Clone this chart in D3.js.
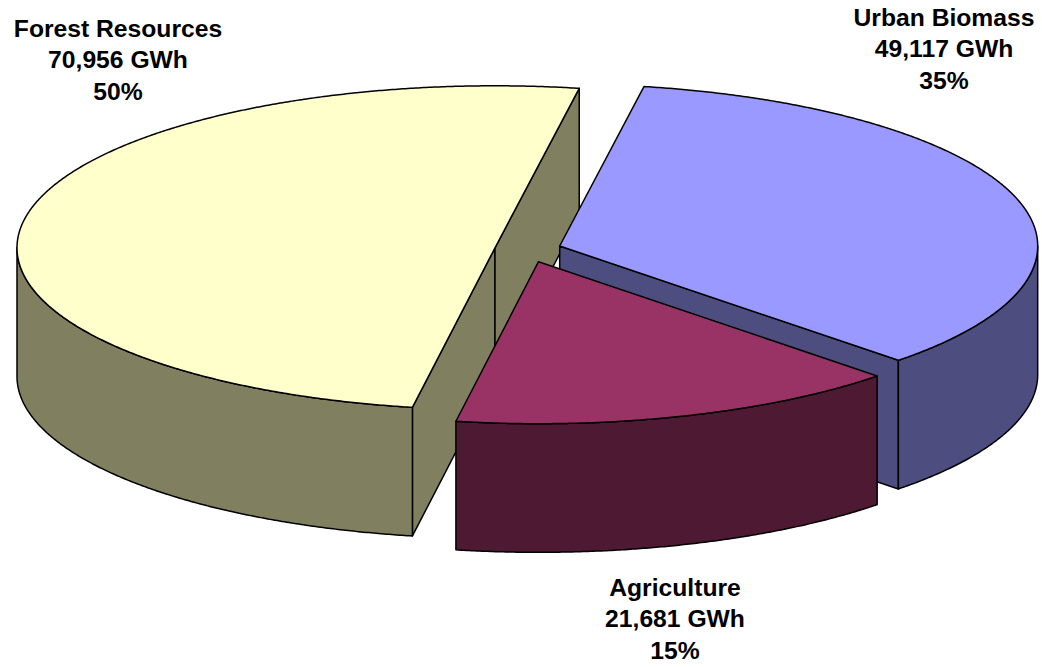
<!DOCTYPE html>
<html>
<head>
<meta charset="utf-8">
<style>
  html, body { margin: 0; padding: 0; background: #fff; }
  svg { display: block; }
  text { font-family: "Liberation Sans", Arial, sans-serif; font-weight: bold; font-size: 23.5px; fill: #000; }
</style>
</head>
<body>
<svg id="chart" width="1042" height="667"></svg>
<script src="https://cdn.jsdelivr.net/npm/d3@7/dist/d3.min.js"></script>
<script>
// Biomass energy potential by source
const categories = ["Urban Biomass", "Agriculture", "Forest Resources"];
const energyGWh = [49117, 21681, 70956];
const shareLabels = ["35%", "15%", "50%"];
const energyLabels = ["49,117 GWh", "21,681 GWh", "70,956 GWh"];

const topColors = ["#9999FF", "#993366", "#FFFFCC"];
const wallColors = ["#4D4D80", "#4D1933", "#808060"];

// Slice apex on the page once exploded, and where each label block starts
const apexX = [559.7, 538.5, 495];
const apexY = [246, 261.7, 247.8];
const labelX = [944, 675, 118];
const labelY = [26, 596, 37];
const lineStep = 31.5;
const labelWiden = 1.05;
const drawOrder = [2, 0, 1];

const radiusX = 478;
const radiusY = 162;
const depth = 128.6;
const firstAngle = 10.15 * Math.PI / 180;

const svg = d3.select("#chart");
const pie = d3.pie().sort(null).value(d => d)
  .startAngle(firstAngle).endAngle(firstAngle + 2 * Math.PI);
const slices = pie(energyGWh);

const outline = d3.line().x(d => d[0]).y(d => d[1]);

// Tilted-disc projection of a rim angle, relative to the slice apex
const rimPoint = (i, a, drop = 0) => [
  apexX[i] + radiusX * Math.sin(a),
  apexY[i] - radiusY * Math.cos(a) + drop
];
const rimArc = (i, a0, a1, drop = 0) => {
  const n = Math.max(2, Math.ceil(Math.abs(a1 - a0) * 180));
  return d3.range(n + 1).map(k => rimPoint(i, a0 + (a1 - a0) * k / n, drop));
};

const drawShape = (points, fill) => svg.append("path")
  .attr("d", outline(points) + "Z")
  .attr("fill", fill)
  .attr("stroke", "#000")
  .attr("stroke-width", 1.5)
  .attr("stroke-linejoin", "round");

drawOrder.forEach(i => {
  const { startAngle: a0, endAngle: a1 } = slices[i];
  const apex = [apexX[i], apexY[i]];
  const apexLow = [apexX[i], apexY[i] + depth];

  // Cut faces that turn toward the viewer
  if (-Math.sin(a0) > 0) {
    drawShape([apex, rimPoint(i, a0), rimPoint(i, a0, depth), apexLow], wallColors[i]);
  }
  if (Math.sin(a1) > 0) {
    drawShape([apex, rimPoint(i, a1), rimPoint(i, a1, depth), apexLow], wallColors[i]);
  }

  // Curved outer wall: only the near half of the rim, angles 90° to 270°
  const lo = Math.max(a0, Math.PI / 2);
  const hi = Math.min(a1, 3 * Math.PI / 2);
  if (hi > lo) {
    drawShape(rimArc(i, lo, hi).concat(rimArc(i, hi, lo, depth)), wallColors[i]);
  }

  // Top face
  drawShape([apex].concat(rimArc(i, a0, a1)), topColors[i]);
});

// Three-line label for each slice, drawn slightly wide
categories.forEach((name, i) => {
  const label = svg.append("text")
    .attr("text-anchor", "middle")
    .attr("transform", `translate(${labelX[i]},${labelY[i]}) scale(${labelWiden},1)`);
  [name, energyLabels[i], shareLabels[i]].forEach((line, k) => {
    label.append("tspan")
      .attr("x", 0)
      .attr("y", k * lineStep)
      .text(line);
  });
});
</script>
</body>
</html>
